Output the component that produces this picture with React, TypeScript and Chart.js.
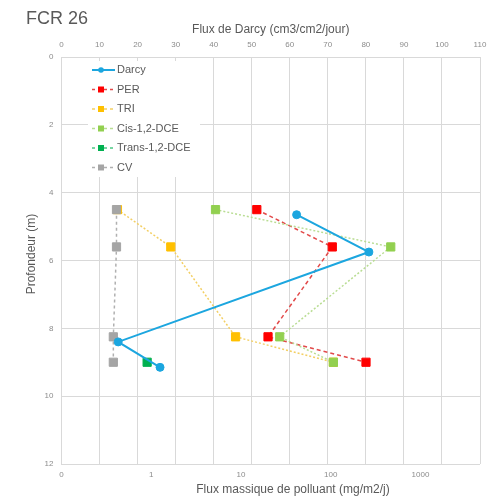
import React, { useEffect, useRef } from "react";
import { Chart, registerables } from "chart.js";

Chart.register(...registerables);

// ---- Data ----
const chartTitle = "FCR 26";
const topAxisTitle = "Flux de Darcy (cm3/cm2/jour)";
const bottomAxisTitle = "Flux massique de polluant (mg/m2/j)";
const leftAxisTitle = "Profondeur (m)";

const darcyDepth = [4.65, 5.75, 8.4, 9.15];
const darcyFlux = [61.8, 80.8, 14.9, 25.9];

const sampleDepth = [4.5, 5.6, 8.25, 9.0];
const perFlux = [15, 104, 20, 247];
const triFlux = [0.42, 1.65, 8.7, 107];
const cisFlux = [5.2, 466, 27, 107];
const transFlux: (number | null)[] = [null, null, null, 0.9];
const cvFlux = [0.41, 0.41, 0.378, 0.378];

const bottomTickValues = [0.1, 1, 10, 100, 1000];
const bottomTickLabels = ["0", "1", "10", "100", "1000"];

const seriesNames = ["Darcy", "PER", "TRI", "Cis-1,2-DCE", "Trans-1,2-DCE", "CV"];
const seriesColors = ["#1CA6DF", "#FF0000", "#FFC000", "#92D050", "#00B050", "#A5A5A5"];
const lineColors = ["#1CA6DF", "#E24A4A", "#F3CF63", "#B9DD93", "#4CC884", "#B0B0B0"];

const FONT = "'Liberation Sans', Arial, sans-serif";
const TEXT = "#595959";
const TICK = "#8C8C8C";
const GRID = "#D9D9D9";

function pts(xs: (number | null)[], ys: number[]) {
  return xs.map((x, i) => ({ x: x as any, y: ys[i] }));
}

const decorPlugin = {
  id: "decor",
  afterDraw(chart: any) {
    const ctx = chart.ctx as CanvasRenderingContext2D;
    ctx.save();
    // main title
    ctx.fillStyle = TEXT;
    ctx.font = `18px ${FONT}`;
    ctx.textAlign = "left";
    ctx.textBaseline = "middle";
    ctx.fillText(chartTitle, 26, 19);

    // bottom axis title
    ctx.font = `12px ${FONT}`;
    ctx.textAlign = "center";
    ctx.fillText(bottomAxisTitle, 293, 490);

    // left axis title
    ctx.save();
    ctx.translate(32, 254);
    ctx.rotate(-Math.PI / 2);
    ctx.fillText(leftAxisTitle, 0, 0);
    ctx.restore();

    // legend
    ctx.fillStyle = "#FFFFFF";
    ctx.fillRect(88, 61, 112, 116);
    const y0 = 70;
    const step = 19.5;
    seriesNames.forEach((name, i) => {
      const y = y0 + i * step;
      ctx.save();
      ctx.strokeStyle = lineColors[i];
      ctx.lineWidth = i === 0 ? 2 : 1.5;
      ctx.setLineDash(i === 0 ? [] : [3, 3]);
      ctx.beginPath();
      ctx.moveTo(92, y);
      ctx.lineTo(115, y);
      ctx.stroke();
      ctx.setLineDash([]);
      ctx.fillStyle = seriesColors[i];
      if (i === 0) {
        ctx.beginPath();
        ctx.arc(101, y, 2.8, 0, Math.PI * 2);
        ctx.fill();
      } else {
        ctx.fillRect(98, y - 3, 6, 6);
      }
      ctx.restore();
      ctx.fillStyle = TEXT;
      ctx.font = `11px ${FONT}`;
      ctx.textAlign = "left";
      ctx.textBaseline = "middle";
      ctx.fillText(name, 117, y);
    });
    ctx.restore();
  },
};

function pollutant(i: number, flux: (number | null)[], dash: number[], order: number) {
  return {
    label: seriesNames[i],
    data: pts(flux, sampleDepth),
    xAxisID: "x",
    yAxisID: "y",
    showLine: true,
    borderColor: lineColors[i],
    borderWidth: 1.5,
    borderDash: dash,
    pointStyle: "rect",
    pointRadius: 5.8,
    pointBorderWidth: 1,
    pointBackgroundColor: seriesColors[i],
    pointBorderColor: seriesColors[i],
    fill: false,
    tension: 0,
    order,
  };
}

export default function App() {
  const ref = useRef<HTMLCanvasElement | null>(null);

  useEffect(() => {
    if (!ref.current) return;
    const chart = new Chart(ref.current, {
      type: "scatter",
      data: {
        datasets: [
          {
            label: seriesNames[0],
            data: pts(darcyFlux, darcyDepth),
            xAxisID: "x2",
            yAxisID: "y",
            showLine: true,
            borderColor: seriesColors[0],
            borderWidth: 2,
            pointStyle: "circle",
            pointRadius: 4,
            pointBorderWidth: 1,
            pointBackgroundColor: seriesColors[0],
            pointBorderColor: seriesColors[0],
            fill: false,
            tension: 0,
            order: 0,
          } as any,
          pollutant(1, perFlux, [4, 3], 5),
          pollutant(2, triFlux, [2, 2], 4),
          pollutant(3, cisFlux, [2, 2], 3),
          pollutant(4, transFlux, [3, 3], 2),
          pollutant(5, cvFlux, [3, 3], 1),
        ],
      },
      options: {
        responsive: false,
        animation: false,
        layout: { padding: { left: 0, right: 9, top: 0, bottom: 0 } },
        plugins: {
          legend: { display: false },
          tooltip: { enabled: false },
          title: { display: false },
        },
        scales: {
          x: {
            type: "logarithmic",
            position: "bottom",
            min: 0.1,
            max: 4600,
            grid: { display: false, drawTicks: false },
            border: { display: false },
            afterBuildTicks: (s: any) => {
              s.ticks = bottomTickValues.map((v) => ({ value: v }));
            },
            ticks: {
              autoSkip: false,
              maxRotation: 0,
              padding: 6,
              color: TICK,
              font: { family: FONT, size: 8 },
              callback: (v: any) => {
                const idx = bottomTickValues.findIndex((t) => Math.abs(t - Number(v)) < 1e-9);
                return idx >= 0 ? bottomTickLabels[idx] : "";
              },
            },
            afterFit: (s: any) => {
              s.height = 35;
              s.paddingLeft = 0;
              s.paddingRight = 0;
            },
          },
          x2: {
            type: "linear",
            position: "top",
            min: 0,
            max: 110,
            grid: { color: GRID, drawTicks: false },
            border: { display: true, color: GRID },
            ticks: {
              stepSize: 10,
              padding: 7,
              color: TICK,
              font: { family: FONT, size: 8 },
              maxRotation: 0,
              autoSkip: false,
            },
            title: {
              display: true,
              text: topAxisTitle,
              color: TEXT,
              font: { family: FONT, size: 12 },
              padding: { top: 22, bottom: 0 },
            },
            afterFit: (s: any) => {
              s.height = 57;
              s.paddingLeft = 0;
              s.paddingRight = 0;
            },
          },
          y: {
            type: "linear",
            position: "left",
            reverse: true,
            min: 0,
            max: 12,
            grid: { color: GRID, drawTicks: false },
            border: { display: true, color: GRID },
            ticks: {
              stepSize: 2,
              padding: 8,
              color: TICK,
              font: { family: FONT, size: 8 },
            },
            afterFit: (s: any) => {
              s.width = 61.5;
              s.paddingTop = 0;
              s.paddingBottom = 0;
            },
          },
        },
      } as any,
      plugins: [decorPlugin],
    });
    return () => chart.destroy();
  }, []);

  return (
    <div style={{ position: "absolute", left: 0, top: 0, width: 489, height: 499, background: "#fff" }}>
      <canvas ref={ref} width={489} height={499} />
    </div>
  );
}
